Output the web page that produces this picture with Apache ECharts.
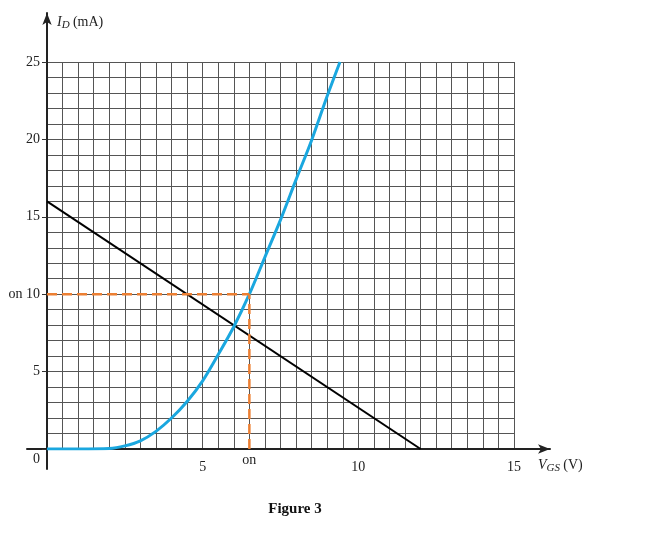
<!DOCTYPE html>
<html>
<head>
<meta charset="utf-8">
<script src="https://cdn.jsdelivr.net/npm/echarts@6/dist/echarts.min.js"></script>
<style>
  html, body { margin: 0; padding: 0; background: #fff; }
  #chart { width: 647px; height: 533px; }
</style>
</head>
<body>
<div id="chart"></div>
<script>
// transfer curve I_D vs V_GS
const vgs = [0, 1, 2, 2.5, 3, 3.5, 4, 4.5, 5, 5.5, 6, 6.5, 7, 7.5, 8, 8.5, 9, 9.41];
const idCurve = [0, 0, 0.03, 0.2, 0.53, 1.14, 2.0, 3.07, 4.4, 6.1, 7.9, 10, 12.4, 14.8, 17.4, 19.95, 22.8, 25];

// bias line end points
const loadLine = [[0, 16], [12, 0]];

// operating point ("on")
const vgsOn = 6.5;
const idOn = 10;

const xMax = 15;
const yMax = 25;
const fontFamily = "'Liberation Serif', 'DejaVu Serif', serif";

const chart = echarts.init(document.getElementById("chart"));

// plot rectangle (main grid) and the bigger one used for the arrow axes
const plot = { left: 47, right: 133, top: 62, bottom: 84 };
const arrows = { left: 27, right: 97, top: 13, bottom: 64 };
const W = 647, H = 533;
const pxX = (W - plot.left - plot.right) / xMax;
const pxY = (H - plot.top - plot.bottom) / yMax;
const y0 = H - plot.bottom;

const gridLine = { color: "#555", width: 1 };

const option = {
  animation: false,
  backgroundColor: "#fff",
  title: {
    text: "Figure 3",
    left: 290,
    top: 497,
    textAlign: "center",
    textStyle: { fontFamily, fontWeight: "bold", fontSize: 15, color: "#111" },
  },
  grid: [
    { left: plot.left, right: plot.right, top: plot.top, bottom: plot.bottom },
    { left: arrows.left, right: arrows.right, top: arrows.top, bottom: arrows.bottom },
  ],
  xAxis: [
    {
      gridIndex: 0,
      type: "value",
      min: 0,
      max: xMax,
      interval: 5,
      axisLine: { show: false },
      axisTick: { show: false },
      axisLabel: {
        margin: 11,
        fontFamily,
        fontSize: 14,
        color: "#222",
        formatter: (v) => (v === 0 ? "" : String(v)),
      },
      splitLine: { show: true, lineStyle: gridLine },
      minorTick: { show: false, splitNumber: 10 },
      minorSplitLine: { show: true, lineStyle: gridLine },
    },
    {
      gridIndex: 1,
      type: "value",
      min: -(plot.left - arrows.left) / pxX,
      max: (W - arrows.right - plot.left) / pxX,
      axisLine: {
        show: true,
        onZero: true,
        symbol: ["none", "arrow"],
        symbolSize: [7, 12],
        lineStyle: { color: "#222", width: 2 },
      },
      axisTick: { show: false },
      axisLabel: { show: false },
      splitLine: { show: false },
      name: "{v|V}{s|GS} {n|(V)}",
      nameLocation: "end",
      nameGap: -12,
      nameTextStyle: {
        padding: [32, 0, 0, 0],
        rich: {
          v: { fontFamily, fontStyle: "italic", fontSize: 14, color: "#222" },
          s: { fontFamily, fontStyle: "italic", fontSize: 11, color: "#222", padding: [6, 0, 0, 0] },
          n: { fontFamily, fontSize: 14, color: "#222" },
        },
      },
    },
  ],
  yAxis: [
    {
      gridIndex: 0,
      type: "value",
      min: 0,
      max: yMax,
      interval: 5,
      axisLine: { show: false },
      axisTick: { show: true, length: 5, lineStyle: { color: "#333" } },
      axisLabel: {
        margin: 7,
        fontFamily,
        fontSize: 14,
        color: "#222",
        formatter: (v) => (v === 0 ? "" : v === idOn ? "on " + v : String(v)),
      },
      splitLine: { show: true, lineStyle: gridLine },
      minorTick: { show: false, splitNumber: 5 },
      minorSplitLine: { show: true, lineStyle: gridLine },
    },
    {
      gridIndex: 1,
      type: "value",
      min: -(H - arrows.bottom - y0) / pxY,
      max: (y0 - arrows.top) / pxY,
      axisLine: {
        show: true,
        onZero: true,
        symbol: ["none", "arrow"],
        symbolSize: [7, 12],
        lineStyle: { color: "#222", width: 2 },
      },
      axisTick: { show: false },
      axisLabel: { show: false },
      splitLine: { show: false },
      name: "{i|I}{s|D} {n|(mA)}",
      nameLocation: "end",
      nameGap: -18,
      nameTextStyle: {
        align: "left",
        padding: [0, 0, 0, 10],
        rich: {
          i: { fontFamily, fontStyle: "italic", fontSize: 14, color: "#222" },
          s: { fontFamily, fontStyle: "italic", fontSize: 11, color: "#222", padding: [6, 0, 0, 0] },
          n: { fontFamily, fontSize: 14, color: "#222" },
        },
      },
    },
  ],
  graphic: [
    {
      type: "text",
      left: 33,
      top: 452,
      style: { text: "0", font: "14px " + fontFamily, fill: "#222" },
    },
  ],
  series: [
    {
      name: "I_D",
      type: "line",
      xAxisIndex: 0,
      yAxisIndex: 0,
      data: vgs.map((v, i) => [v, idCurve[i]]),
      smooth: 0.3,
      symbol: "none",
      lineStyle: { color: "#1aa7df", width: 3 },
      z: 4,
    },
    {
      name: "bias",
      type: "line",
      xAxisIndex: 0,
      yAxisIndex: 0,
      data: loadLine,
      symbol: "none",
      lineStyle: { color: "#000", width: 2 },
      z: 3,
    },
    {
      name: "on-h",
      type: "line",
      xAxisIndex: 0,
      yAxisIndex: 0,
      data: [[0, idOn], [vgsOn, idOn]],
      symbol: "none",
      lineStyle: { color: "#ec7f32", type: "dashed", dashOffset: 0, width: 2.5 },
      z: 5,
    },
    {
      name: "on-v",
      type: "line",
      xAxisIndex: 0,
      yAxisIndex: 0,
      data: [[vgsOn, 0], [vgsOn, idOn]],
      symbol: "none",
      lineStyle: { color: "#ec7f32", type: "dashed", dashOffset: 0, width: 2.5 },
      z: 5,
      markPoint: {
        symbol: "circle",
        symbolSize: 1,
        silent: true,
        itemStyle: { color: "rgba(0,0,0,0)" },
        data: [
          {
            coord: [vgsOn, 0],
            label: {
              show: true,
              formatter: "on",
              offset: [0, 11],
              fontFamily,
              fontSize: 14,
              color: "#222",
            },
          },
        ],
      },
    },
  ],
};

chart.setOption(option);
</script>
</body>
</html>
